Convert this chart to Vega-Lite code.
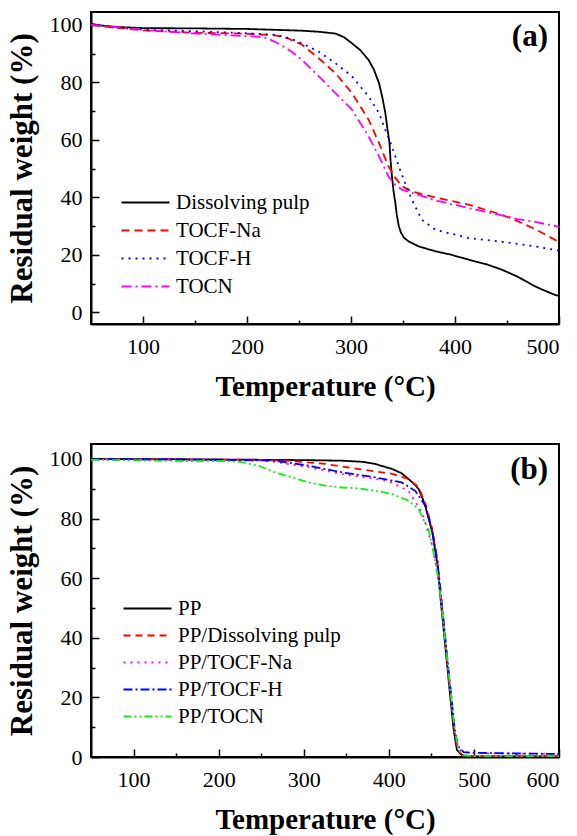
{
  "$schema": "https://vega.github.io/schema/vega-lite/v6.json",
  "background": "white",
  "padding": {"left": 4, "top": 11, "right": 5, "bottom": 5},
  "bounds": "flush",
  "spacing": 120,
  "resolve": {"scale": {"color": "independent", "strokeDash": "independent"}, "legend": {"color": "independent", "strokeDash": "independent"}},
  "config": {
    "font": "Liberation Serif",
    "view": {"stroke": "black", "strokeWidth": 2},
    "axis": {"domainColor": "black", "domainWidth": 2, "tickColor": "black", "tickWidth": 1.5, "tickSize": -8,
      "labelFont": "Liberation Serif", "labelFontSize": 22, "labelColor": "black",
      "titleFont": "Liberation Serif", "titleFontSize": 29, "titleFontWeight": "bold", "titleColor": "black", "grid": false},
    "axisY": {"titleFontSize": 31},
    "legend": {"labelFont": "Liberation Serif", "labelLimit": 0},
    "text": {"font": "Liberation Serif"}
  },
  "datasets": {
    "a": [
      {"T": 50, "w": 100.4, "s": "Dissolving pulp"}, {"T": 60, "w": 99.8, "s": "Dissolving pulp"}, {"T": 75, "w": 99.3, "s": "Dissolving pulp"}, {"T": 100, "w": 98.9, "s": "Dissolving pulp"}, {"T": 150, "w": 98.8, "s": "Dissolving pulp"}, {"T": 200, "w": 98.6, "s": "Dissolving pulp"}, {"T": 253, "w": 98.0, "s": "Dissolving pulp"}, {"T": 270, "w": 97.6, "s": "Dissolving pulp"}, {"T": 285, "w": 97.0, "s": "Dissolving pulp"}, {"T": 293, "w": 95.8, "s": "Dissolving pulp"}, {"T": 301, "w": 93.6, "s": "Dissolving pulp"}, {"T": 309, "w": 91.2, "s": "Dissolving pulp"}, {"T": 317, "w": 87.8, "s": "Dissolving pulp"}, {"T": 322, "w": 84.5, "s": "Dissolving pulp"}, {"T": 327, "w": 79.7, "s": "Dissolving pulp"}, {"T": 330, "w": 75.0, "s": "Dissolving pulp"}, {"T": 333, "w": 69.4, "s": "Dissolving pulp"}, {"T": 335, "w": 64.0, "s": "Dissolving pulp"}, {"T": 337, "w": 59.0, "s": "Dissolving pulp"}, {"T": 338, "w": 53.0, "s": "Dissolving pulp"}, {"T": 339.4, "w": 47.3, "s": "Dissolving pulp"}, {"T": 341, "w": 42.0, "s": "Dissolving pulp"}, {"T": 342.6, "w": 38.2, "s": "Dissolving pulp"}, {"T": 344, "w": 34.0, "s": "Dissolving pulp"}, {"T": 346, "w": 30.0, "s": "Dissolving pulp"}, {"T": 348, "w": 27.8, "s": "Dissolving pulp"}, {"T": 351, "w": 26.0, "s": "Dissolving pulp"}, {"T": 355, "w": 24.8, "s": "Dissolving pulp"}, {"T": 365, "w": 23.0, "s": "Dissolving pulp"}, {"T": 381, "w": 21.3, "s": "Dissolving pulp"}, {"T": 395, "w": 20.2, "s": "Dissolving pulp"}, {"T": 413, "w": 18.4, "s": "Dissolving pulp"}, {"T": 430, "w": 16.8, "s": "Dissolving pulp"}, {"T": 445, "w": 14.9, "s": "Dissolving pulp"}, {"T": 460, "w": 12.5, "s": "Dissolving pulp"}, {"T": 477, "w": 9.1, "s": "Dissolving pulp"}, {"T": 485, "w": 7.8, "s": "Dissolving pulp"}, {"T": 493, "w": 6.6, "s": "Dissolving pulp"}, {"T": 497, "w": 6.0, "s": "Dissolving pulp"}, {"T": 500, "w": 5.8, "s": "Dissolving pulp"},

      {"T": 50, "w": 100.0, "s": "TOCF-Na"}, {"T": 75, "w": 99.0, "s": "TOCF-Na"}, {"T": 100, "w": 98.1, "s": "TOCF-Na"}, {"T": 147, "w": 97.3, "s": "TOCF-Na"}, {"T": 195, "w": 97.0, "s": "TOCF-Na"}, {"T": 227, "w": 96.4, "s": "TOCF-Na"}, {"T": 240, "w": 95.2, "s": "TOCF-Na"}, {"T": 253, "w": 93.1, "s": "TOCF-Na"}, {"T": 269, "w": 88.4, "s": "TOCF-Na"}, {"T": 285, "w": 83.2, "s": "TOCF-Na"}, {"T": 301, "w": 76.3, "s": "TOCF-Na"}, {"T": 317, "w": 67.0, "s": "TOCF-Na"}, {"T": 327, "w": 58.9, "s": "TOCF-Na"}, {"T": 336, "w": 50.8, "s": "TOCF-Na"}, {"T": 342.6, "w": 46.8, "s": "TOCF-Na"}, {"T": 349, "w": 43.9, "s": "TOCF-Na"}, {"T": 358.6, "w": 42.1, "s": "TOCF-Na"}, {"T": 381, "w": 40.0, "s": "TOCF-Na"}, {"T": 413, "w": 37.5, "s": "TOCF-Na"}, {"T": 445, "w": 34.0, "s": "TOCF-Na"}, {"T": 460, "w": 31.8, "s": "TOCF-Na"}, {"T": 477, "w": 29.0, "s": "TOCF-Na"}, {"T": 490, "w": 26.5, "s": "TOCF-Na"}, {"T": 500, "w": 24.5, "s": "TOCF-Na"},

      {"T": 50, "w": 100.0, "s": "TOCF-H"}, {"T": 75, "w": 99.0, "s": "TOCF-H"}, {"T": 100, "w": 98.4, "s": "TOCF-H"}, {"T": 147, "w": 97.8, "s": "TOCF-H"}, {"T": 195, "w": 97.2, "s": "TOCF-H"}, {"T": 227, "w": 96.6, "s": "TOCF-H"}, {"T": 240, "w": 95.5, "s": "TOCF-H"}, {"T": 253, "w": 93.6, "s": "TOCF-H"}, {"T": 269, "w": 90.7, "s": "TOCF-H"}, {"T": 285, "w": 86.7, "s": "TOCF-H"}, {"T": 301, "w": 82.1, "s": "TOCF-H"}, {"T": 317, "w": 75.1, "s": "TOCF-H"}, {"T": 327, "w": 69.3, "s": "TOCF-H"}, {"T": 333, "w": 63.5, "s": "TOCF-H"}, {"T": 339.4, "w": 57.7, "s": "TOCF-H"}, {"T": 346, "w": 50.8, "s": "TOCF-H"}, {"T": 352, "w": 45.0, "s": "TOCF-H"}, {"T": 358.6, "w": 39.2, "s": "TOCF-H"}, {"T": 368, "w": 32.3, "s": "TOCF-H"}, {"T": 381, "w": 28.8, "s": "TOCF-H"}, {"T": 413, "w": 25.9, "s": "TOCF-H"}, {"T": 445, "w": 24.6, "s": "TOCF-H"}, {"T": 477, "w": 23.0, "s": "TOCF-H"}, {"T": 500, "w": 21.5, "s": "TOCF-H"},

      {"T": 50, "w": 100.0, "s": "TOCN"}, {"T": 75, "w": 99.2, "s": "TOCN"}, {"T": 100, "w": 98.3, "s": "TOCN"}, {"T": 147, "w": 97.1, "s": "TOCN"}, {"T": 179, "w": 96.5, "s": "TOCN"}, {"T": 211, "w": 95.9, "s": "TOCN"}, {"T": 220, "w": 95.3, "s": "TOCN"}, {"T": 232, "w": 93.2, "s": "TOCN"}, {"T": 243, "w": 90.7, "s": "TOCN"}, {"T": 253, "w": 87.8, "s": "TOCN"}, {"T": 269, "w": 82.1, "s": "TOCN"}, {"T": 285, "w": 76.3, "s": "TOCN"}, {"T": 301, "w": 70.5, "s": "TOCN"}, {"T": 317, "w": 61.2, "s": "TOCN"}, {"T": 327, "w": 54.3, "s": "TOCN"}, {"T": 336, "w": 47.3, "s": "TOCN"}, {"T": 342.6, "w": 44.4, "s": "TOCN"}, {"T": 349, "w": 42.7, "s": "TOCN"}, {"T": 358.6, "w": 41.6, "s": "TOCN"}, {"T": 381, "w": 39.0, "s": "TOCN"}, {"T": 413, "w": 36.3, "s": "TOCN"}, {"T": 445, "w": 33.8, "s": "TOCN"}, {"T": 460, "w": 32.5, "s": "TOCN"}, {"T": 477, "w": 31.5, "s": "TOCN"}, {"T": 500, "w": 29.8, "s": "TOCN"}
    ],
    "b": [
      {"T": 50, "w": 100.0, "s": "PP"}, {"T": 150, "w": 99.9, "s": "PP"}, {"T": 250, "w": 99.7, "s": "PP"}, {"T": 300, "w": 99.6, "s": "PP"}, {"T": 345, "w": 99.4, "s": "PP"}, {"T": 370, "w": 99.0, "s": "PP"}, {"T": 384, "w": 98.3, "s": "PP"}, {"T": 404, "w": 96.6, "s": "PP"}, {"T": 415, "w": 95.2, "s": "PP"}, {"T": 423, "w": 93.3, "s": "PP"}, {"T": 430, "w": 91.5, "s": "PP"}, {"T": 435, "w": 89.9, "s": "PP"}, {"T": 440, "w": 86.5, "s": "PP"}, {"T": 443, "w": 84.0, "s": "PP"}, {"T": 451, "w": 75.5, "s": "PP"}, {"T": 456.6, "w": 65.5, "s": "PP"}, {"T": 460.5, "w": 54.0, "s": "PP"}, {"T": 464.4, "w": 42.8, "s": "PP"}, {"T": 468.3, "w": 31.5, "s": "PP"}, {"T": 472.2, "w": 20.3, "s": "PP"}, {"T": 476.2, "w": 9.1, "s": "PP"}, {"T": 480, "w": 2.4, "s": "PP"}, {"T": 486, "w": 0.5, "s": "PP"}, {"T": 500, "w": 0.2, "s": "PP"}, {"T": 600, "w": 0.2, "s": "PP"},

      {"T": 50, "w": 100.0, "s": "PP/Dissolving pulp"}, {"T": 150, "w": 99.8, "s": "PP/Dissolving pulp"}, {"T": 247, "w": 99.7, "s": "PP/Dissolving pulp"}, {"T": 286, "w": 99.3, "s": "PP/Dissolving pulp"}, {"T": 325, "w": 98.3, "s": "PP/Dissolving pulp"}, {"T": 364.6, "w": 96.6, "s": "PP/Dissolving pulp"}, {"T": 404, "w": 95.0, "s": "PP/Dissolving pulp"}, {"T": 423, "w": 93.3, "s": "PP/Dissolving pulp"}, {"T": 435, "w": 90.5, "s": "PP/Dissolving pulp"}, {"T": 443, "w": 85.0, "s": "PP/Dissolving pulp"}, {"T": 451, "w": 76.5, "s": "PP/Dissolving pulp"}, {"T": 457, "w": 66.0, "s": "PP/Dissolving pulp"}, {"T": 461, "w": 55.0, "s": "PP/Dissolving pulp"}, {"T": 465, "w": 43.0, "s": "PP/Dissolving pulp"}, {"T": 469, "w": 31.5, "s": "PP/Dissolving pulp"}, {"T": 473, "w": 20.0, "s": "PP/Dissolving pulp"}, {"T": 477, "w": 9.0, "s": "PP/Dissolving pulp"}, {"T": 481, "w": 2.5, "s": "PP/Dissolving pulp"}, {"T": 487, "w": 0.5, "s": "PP/Dissolving pulp"}, {"T": 500, "w": 0.3, "s": "PP/Dissolving pulp"}, {"T": 600, "w": 0.3, "s": "PP/Dissolving pulp"},

      {"T": 50, "w": 99.9, "s": "PP/TOCF-Na"}, {"T": 150, "w": 99.7, "s": "PP/TOCF-Na"}, {"T": 250, "w": 99.4, "s": "PP/TOCF-Na"}, {"T": 266, "w": 99.0, "s": "PP/TOCF-Na"}, {"T": 306, "w": 97.2, "s": "PP/TOCF-Na"}, {"T": 345, "w": 94.9, "s": "PP/TOCF-Na"}, {"T": 384, "w": 93.3, "s": "PP/TOCF-Na"}, {"T": 400, "w": 92.5, "s": "PP/TOCF-Na"}, {"T": 423, "w": 89.3, "s": "PP/TOCF-Na"}, {"T": 439, "w": 82.0, "s": "PP/TOCF-Na"}, {"T": 451, "w": 71.0, "s": "PP/TOCF-Na"}, {"T": 457, "w": 62.0, "s": "PP/TOCF-Na"}, {"T": 461, "w": 53.0, "s": "PP/TOCF-Na"}, {"T": 465, "w": 42.0, "s": "PP/TOCF-Na"}, {"T": 469, "w": 31.0, "s": "PP/TOCF-Na"}, {"T": 473, "w": 20.0, "s": "PP/TOCF-Na"}, {"T": 477, "w": 9.5, "s": "PP/TOCF-Na"}, {"T": 481, "w": 3.5, "s": "PP/TOCF-Na"}, {"T": 487, "w": 1.6, "s": "PP/TOCF-Na"}, {"T": 500, "w": 1.3, "s": "PP/TOCF-Na"}, {"T": 600, "w": 1.0, "s": "PP/TOCF-Na"},

      {"T": 50, "w": 100.0, "s": "PP/TOCF-H"}, {"T": 150, "w": 99.8, "s": "PP/TOCF-H"}, {"T": 250, "w": 99.5, "s": "PP/TOCF-H"}, {"T": 266, "w": 99.4, "s": "PP/TOCF-H"}, {"T": 306, "w": 97.7, "s": "PP/TOCF-H"}, {"T": 345, "w": 95.5, "s": "PP/TOCF-H"}, {"T": 384, "w": 93.8, "s": "PP/TOCF-H"}, {"T": 415, "w": 92.1, "s": "PP/TOCF-H"}, {"T": 431, "w": 89.3, "s": "PP/TOCF-H"}, {"T": 443, "w": 84.3, "s": "PP/TOCF-H"}, {"T": 451, "w": 76.0, "s": "PP/TOCF-H"}, {"T": 457, "w": 66.0, "s": "PP/TOCF-H"}, {"T": 461, "w": 55.0, "s": "PP/TOCF-H"}, {"T": 465, "w": 44.0, "s": "PP/TOCF-H"}, {"T": 469, "w": 32.5, "s": "PP/TOCF-H"}, {"T": 473, "w": 21.5, "s": "PP/TOCF-H"}, {"T": 477, "w": 10.5, "s": "PP/TOCF-H"}, {"T": 481, "w": 3.8, "s": "PP/TOCF-H"}, {"T": 488, "w": 1.6, "s": "PP/TOCF-H"}, {"T": 500, "w": 1.4, "s": "PP/TOCF-H"}, {"T": 600, "w": 1.0, "s": "PP/TOCF-H"},

      {"T": 50, "w": 99.7, "s": "PP/TOCN"}, {"T": 100, "w": 99.5, "s": "PP/TOCN"}, {"T": 150, "w": 99.3, "s": "PP/TOCN"}, {"T": 207, "w": 99.3, "s": "PP/TOCN"}, {"T": 227, "w": 98.9, "s": "PP/TOCN"}, {"T": 247, "w": 97.7, "s": "PP/TOCN"}, {"T": 266, "w": 95.5, "s": "PP/TOCN"}, {"T": 286, "w": 93.8, "s": "PP/TOCN"}, {"T": 306, "w": 92.1, "s": "PP/TOCN"}, {"T": 325, "w": 91.0, "s": "PP/TOCN"}, {"T": 345, "w": 90.4, "s": "PP/TOCN"}, {"T": 364.6, "w": 90.1, "s": "PP/TOCN"}, {"T": 384, "w": 89.3, "s": "PP/TOCN"}, {"T": 404, "w": 88.2, "s": "PP/TOCN"}, {"T": 423, "w": 86.0, "s": "PP/TOCN"}, {"T": 435, "w": 83.2, "s": "PP/TOCN"}, {"T": 447, "w": 76.0, "s": "PP/TOCN"}, {"T": 453, "w": 68.0, "s": "PP/TOCN"}, {"T": 458, "w": 60.0, "s": "PP/TOCN"}, {"T": 462, "w": 51.0, "s": "PP/TOCN"}, {"T": 466, "w": 40.0, "s": "PP/TOCN"}, {"T": 470, "w": 29.0, "s": "PP/TOCN"}, {"T": 474, "w": 18.0, "s": "PP/TOCN"}, {"T": 478, "w": 8.0, "s": "PP/TOCN"}, {"T": 482, "w": 2.5, "s": "PP/TOCN"}, {"T": 488, "w": 0.5, "s": "PP/TOCN"}, {"T": 500, "w": 0.3, "s": "PP/TOCN"}, {"T": 600, "w": 0.3, "s": "PP/TOCN"}
    ]
  },
  "vconcat": [
    {
      "width": 468, "height": 312,
      "layer": [
        {
          "data": {"name": "a"},
          "mark": {"type": "line", "strokeWidth": 1.8, "clip": true},
          "encoding": {
            "x": {"field": "T", "type": "quantitative", "scale": {"domain": [50, 500], "nice": false, "zero": false},
              "axis": {"values": [100, 200, 300, 400, 500], "title": "Temperature (°C)", "labelFont": "Liberation Serif", "titleFont": "Liberation Serif", "labelPadding": 20, "titlePadding": 15}},
            "y": {"field": "w", "type": "quantitative", "scale": {"domain": [-4, 104.5], "nice": false, "zero": false},
              "axis": {"values": [0, 20, 40, 60, 80, 100], "title": "Residual weight (%)", "labelFont": "Liberation Serif", "titleFont": "Liberation Serif", "labelPadding": 17, "titlePadding": 11}},
            "color": {"field": "s", "type": "nominal",
              "scale": {"domain": ["Dissolving pulp", "TOCF-Na", "TOCF-H", "TOCN"], "range": ["#000000", "#ff0000", "#0000ff", "#ff00ff"]},
              "legend": {"title": null, "orient": "none", "legendX": 44, "legendY": 180, "padding": 0, "symbolType": "M-4,0H4", "symbolSize": 144, "symbolStrokeWidth": 2, "labelFont": "Liberation Serif", "labelFontSize": 21, "labelColor": "black", "labelOffset": 20, "labelLimit": 0, "rowPadding": 6}},
            "strokeDash": {"field": "s", "type": "nominal",
              "scale": {"domain": ["Dissolving pulp", "TOCF-Na", "TOCF-H", "TOCN"], "range": [[1, 0], [8, 5], [2, 5], [10, 4, 2, 4]]},
              "legend": {"title": null, "orient": "none", "legendX": 44, "legendY": 180, "padding": 0, "symbolType": "M-4,0H4", "symbolSize": 144, "symbolStrokeWidth": 2, "labelFont": "Liberation Serif", "labelFontSize": 21, "labelColor": "black", "labelOffset": 20, "labelLimit": 0, "rowPadding": 6}}
          }
        },
        {
          "data": {"values": [{}]},
          "mark": {"type": "text", "fontSize": 31, "fontWeight": "bold", "font": "Liberation Serif", "color": "black", "baseline": "middle", "align": "center"},
          "encoding": {
            "x": {"datum": 472, "type": "quantitative", "axis": {"orient": "bottom", "values": [150, 250, 350, 450], "labels": false, "domain": false, "tickSize": -4, "title": null}},
            "y": {"datum": 95.8, "type": "quantitative", "axis": {"orient": "left", "values": [10, 30, 50, 70, 90], "labels": false, "domain": false, "tickSize": -4, "title": null}},
            "text": {"value": "(a)"}
          }
        }
      ],
      "resolve": {"axis": {"x": "independent", "y": "independent"}}
    },
    {
      "width": 468, "height": 313,
      "layer": [
        {
          "data": {"name": "b"},
          "mark": {"type": "line", "strokeWidth": 1.8, "clip": true},
          "encoding": {
            "x": {"field": "T", "type": "quantitative", "scale": {"domain": [50, 600], "nice": false, "zero": false},
              "axis": {"values": [100, 200, 300, 400, 500, 600], "title": "Temperature (°C)", "labelFont": "Liberation Serif", "titleFont": "Liberation Serif", "labelPadding": 20, "titlePadding": 15}},
            "y": {"field": "w", "type": "quantitative", "scale": {"domain": [0, 105], "nice": false, "zero": false},
              "axis": {"values": [0, 20, 40, 60, 80, 100], "title": "Residual weight (%)", "labelFont": "Liberation Serif", "titleFont": "Liberation Serif", "labelPadding": 17, "titlePadding": 11}},
            "color": {"field": "s", "type": "nominal",
              "scale": {"domain": ["PP", "PP/Dissolving pulp", "PP/TOCF-Na", "PP/TOCF-H", "PP/TOCN"], "range": ["#000000", "#ff0000", "#ff00ff", "#0000ff", "#11ee11"]},
              "legend": {"title": null, "orient": "none", "legendX": 46, "legendY": 154, "padding": 0, "symbolType": "M-4,0H4", "symbolSize": 144, "symbolStrokeWidth": 2, "labelFont": "Liberation Serif", "labelFontSize": 21, "labelColor": "black", "labelOffset": 20, "labelLimit": 0, "rowPadding": 5}},
            "strokeDash": {"field": "s", "type": "nominal",
              "scale": {"domain": ["PP", "PP/Dissolving pulp", "PP/TOCF-Na", "PP/TOCF-H", "PP/TOCN"], "range": [[1, 0], [7, 5], [2, 5], [9, 3, 2, 3], [8, 3, 2, 3, 2, 3]]},
              "legend": {"title": null, "orient": "none", "legendX": 46, "legendY": 154, "padding": 0, "symbolType": "M-4,0H4", "symbolSize": 144, "symbolStrokeWidth": 2, "labelFont": "Liberation Serif", "labelFontSize": 21, "labelColor": "black", "labelOffset": 20, "labelLimit": 0, "rowPadding": 5}}
          }
        },
        {
          "data": {"values": [{}]},
          "mark": {"type": "text", "fontSize": 31, "fontWeight": "bold", "font": "Liberation Serif", "color": "black", "baseline": "middle", "align": "center"},
          "encoding": {
            "x": {"datum": 565, "type": "quantitative", "axis": {"orient": "bottom", "values": [150, 250, 350, 450, 550], "labels": false, "domain": false, "tickSize": -4, "title": null}},
            "y": {"datum": 96.3, "type": "quantitative", "axis": {"orient": "left", "values": [10, 30, 50, 70, 90], "labels": false, "domain": false, "tickSize": -4, "title": null}},
            "text": {"value": "(b)"}
          }
        }
      ],
      "resolve": {"axis": {"x": "independent", "y": "independent"}}
    }
  ]
}
